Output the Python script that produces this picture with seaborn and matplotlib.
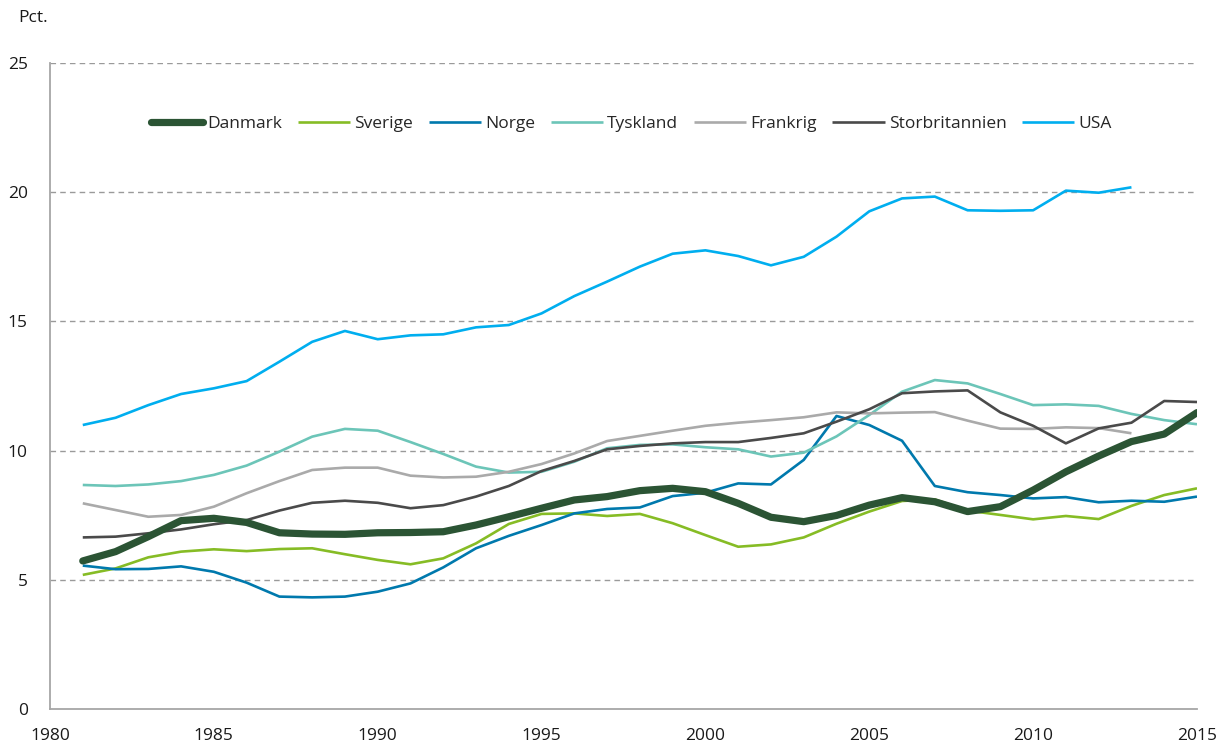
import numpy as np
import pandas as pd
import matplotlib
matplotlib.use("Agg")
import matplotlib.pyplot as plt
import seaborn as sns

years = list(range(1981, 2016))

danmark = [5.73, 6.09, 6.67, 7.29, 7.38, 7.22, 6.82, 6.77, 6.76, 6.82, 6.83, 6.86,
           7.12, 7.44, 7.77, 8.09, 8.22, 8.45, 8.54, 8.41, 7.96, 7.42, 7.25, 7.49,
           7.89, 8.18, 8.02, 7.64, 7.83, 8.47, 9.18, 9.79, 10.35, 10.64, 11.47]
sverige = [5.19, 5.44, 5.87, 6.09, 6.18, 6.11, 6.19, 6.22, 5.99, 5.77, 5.60, 5.83,
           6.41, 7.16, 7.55, 7.57, 7.47, 7.55, 7.19, 6.73, 6.28, 6.37, 6.64, 7.17,
           7.64, 8.05, 8.11, 7.68, 7.51, 7.34, 7.47, 7.35, 7.86, 8.28, 8.54]
norge = [5.55, 5.41, 5.42, 5.52, 5.31, 4.89, 4.35, 4.32, 4.35, 4.54, 4.86, 5.48,
         6.22, 6.70, 7.12, 7.57, 7.74, 7.80, 8.24, 8.37, 8.73, 8.69, 9.64, 11.34,
         10.99, 10.38, 8.63, 8.39, 8.28, 8.15, 8.20, 8.00, 8.06, 8.02, 8.22]
tyskland = [8.67, 8.63, 8.69, 8.82, 9.06, 9.42, 9.96, 10.54, 10.84, 10.77, 10.33, 9.87,
            9.38, 9.15, 9.18, 9.57, 10.09, 10.22, 10.24, 10.13, 10.05, 9.77, 9.92, 10.55,
            11.38, 12.28, 12.73, 12.60, 12.19, 11.76, 11.79, 11.73, 11.42, 11.18, 11.02]
frankrig = [7.96, 7.70, 7.44, 7.51, 7.83, 8.35, 8.82, 9.25, 9.34, 9.34, 9.03, 8.96,
            8.99, 9.18, 9.48, 9.89, 10.37, 10.57, 10.77, 10.96, 11.08, 11.18, 11.29, 11.48,
            11.44, 11.47, 11.49, 11.16, 10.85, 10.84, 10.90, 10.87, 10.67, np.nan, np.nan]
storbritannien = [6.64, 6.67, 6.80, 6.95, 7.15, 7.31, 7.68, 7.98, 8.06, 7.98, 7.77, 7.89,
                  8.22, 8.63, 9.21, 9.60, 10.05, 10.18, 10.28, 10.33, 10.33, 10.49, 10.67, 11.12,
                  11.60, 12.22, 12.29, 12.33, 11.48, 10.96, 10.28, 10.86, 11.08, 11.92, 11.88]
usa = [10.99, 11.27, 11.76, 12.19, 12.41, 12.69, 13.44, 14.21, 14.63, 14.31, 14.46, 14.50,
       14.77, 14.86, 15.31, 15.98, 16.54, 17.12, 17.62, 17.75, 17.53, 17.17, 17.50, 18.28,
       19.26, 19.76, 19.83, 19.30, 19.28, 19.30, 20.06, 19.98, 20.19, np.nan, np.nan]

countries = ["Danmark", "Sverige", "Norge", "Tyskland", "Frankrig", "Storbritannien", "USA"]
series = [danmark, sverige, norge, tyskland, frankrig, storbritannien, usa]
colors = ["#2B5434", "#86BC25", "#0079AD", "#6CC5B8", "#AAAAAA", "#4A4A4A", "#00AEEF"]
widths = [5.2, 1.9, 1.9, 1.9, 1.9, 1.9, 1.9]

df = pd.DataFrame({"year": years})
for name, vals in zip(countries, series):
    df[name] = vals
long = df.melt(id_vars="year", var_name="land", value_name="pct").dropna()

sns.set_style("white")
plt.rcParams["font.family"] = ["Open Sans", "DejaVu Sans"]

fig = plt.figure(figsize=(12.19, 7.44), dpi=100)
ax = fig.add_axes([50 / 1219, 35 / 744, 1147 / 1219, 646 / 744])

grid_col = "#9A9A9A"
for yv in [5, 10, 15, 20, 25]:
    ax.axhline(yv, color=grid_col, lw=1, ls=(0, (4, 3)), zorder=0)

for name, col, lw in zip(countries, colors, widths):
    sns.lineplot(data=long[long["land"] == name], x="year", y="pct", color=col,
                 linewidth=lw, label=name, ax=ax, solid_capstyle="round" if lw > 3 else "butt",
                 zorder=3 if name == "Danmark" else 2)

ax.set_xlim(1980, 2015)
ax.set_ylim(0, 25)
ax.set_xticks(range(1980, 2016, 5))
ax.set_yticks(range(0, 26, 5))
ax.set_xlabel("")
ax.set_ylabel("")
for s in ["top", "right"]:
    ax.spines[s].set_visible(False)
for s in ["left", "bottom"]:
    ax.spines[s].set_color("#A6A6A6")
    ax.spines[s].set_linewidth(1.3)
ax.tick_params(axis="both", colors="#A6A6A6", labelcolor="#1A1A1A", labelsize=12.5,
               length=6, width=1.3, direction="out")
ax.tick_params(axis="x", pad=8)
ax.tick_params(axis="y", pad=10)

ax.legend(loc="center", bbox_to_anchor=(0.507, 0.905), ncol=7, frameon=False,
          fontsize=12.5, handlelength=3.0, handletextpad=0.25, columnspacing=0.9)

fig.text(18 / 1219, 1 - 18 / 744, "Pct.", fontsize=12.5, color="#1A1A1A", va="center", ha="left")

fig.savefig("out.png", dpi=100)
